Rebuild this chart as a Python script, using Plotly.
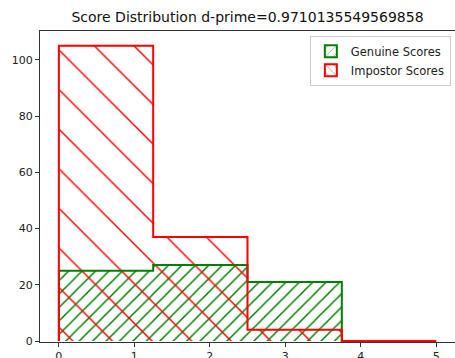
import plotly.graph_objects as go

bin_edges = [0.0, 1.25, 2.5, 3.75, 5.0]
genuine_counts = [25, 27, 21, 0]
impostor_counts = [105, 37, 4, 0]
title_text = "Score Distribution d-prime=0.9710135549569858"
x_ticks = [0, 1, 2, 3, 4, 5]
y_ticks = [0, 20, 40, 60, 80, 100]

centers = [(a + b) / 2 for a, b in zip(bin_edges[:-1], bin_edges[1:])]
width = bin_edges[1] - bin_edges[0]

def step_xy(counts):
    xs = [bin_edges[0]] + bin_edges[:-1] + [bin_edges[-1]]
    ys = [0] + counts + [0]
    return xs, ys

fig = go.Figure()

series = [
    ("Genuine Scores", genuine_counts, "green", "/", 9.5, 0.16),
    ("Impostor Scores", impostor_counts, "red", "\\", 28, 0.05),
]
for name, counts, color, shape, size, sol in series:
    fig.add_trace(go.Bar(
        x=centers, y=counts, width=width, showlegend=False,
        marker=dict(color="rgba(0,0,0,0)", line=dict(width=0), opacity=1,
                    pattern=dict(shape=shape, fgcolor=color, bgcolor="rgba(0,0,0,0)",
                                 fgopacity=1, size=size, solidity=sol, fillmode="overlay")),
        hoverinfo="skip",
    ))
    xs, ys = step_xy(counts)
    fig.add_trace(go.Scatter(
        x=xs, y=ys, mode="lines", line=dict(color=color, width=2, shape="hv"),
        showlegend=False, hoverinfo="skip",
    ))

for name, counts, color, shape, size, sol in series:
    fig.add_trace(go.Bar(
        x=[None], y=[None], name=name,
        marker=dict(color="white", line=dict(color=color, width=2),
                    pattern=dict(shape=shape, fgcolor=color, bgcolor="white",
                                 size=7, solidity=0.15)),
    ))

fig.update_layout(
    width=455, height=358,
    margin=dict(l=40, r=0, t=31, b=16, autoexpand=False),
    paper_bgcolor="white", plot_bgcolor="white",
    barmode="overlay", bargap=0,
    font=dict(family="DejaVu Sans", size=11, color="#222222"),
    title=dict(text=title_text, x=0.5, xanchor="center", xref="paper",
               y=0.952, yref="container", yanchor="middle", automargin=False,
               font=dict(size=14, color="#111111")),
    legend=dict(x=0.99, y=0.985, xanchor="right", yanchor="top",
                bgcolor="rgba(255,255,255,0.8)", bordercolor="#cccccc", borderwidth=1,
                font=dict(size=11.5), itemwidth=30, tracegroupgap=0),
    showlegend=True,
)
fig.update_xaxes(range=[-0.25, 5.25], tickvals=x_ticks, ticks="outside", ticklen=4,
                 tickcolor="#333333", showline=True, linecolor="#333333", linewidth=1,
                 mirror=True, showgrid=False, zeroline=False, automargin=False,
                 layer="below traces", tickfont=dict(size=11))
fig.update_yaxes(range=[-0.35, 110.25], tickvals=y_ticks, ticks="outside", ticklen=4,
                 tickcolor="#333333", showline=True, linecolor="#333333", linewidth=1,
                 mirror=True, showgrid=False, zeroline=False, automargin=False,
                 layer="below traces", tickfont=dict(size=11))

fig.write_html("out.html", config={"displayModeBar": False},
               post_script="document.body.style.margin='0';")
